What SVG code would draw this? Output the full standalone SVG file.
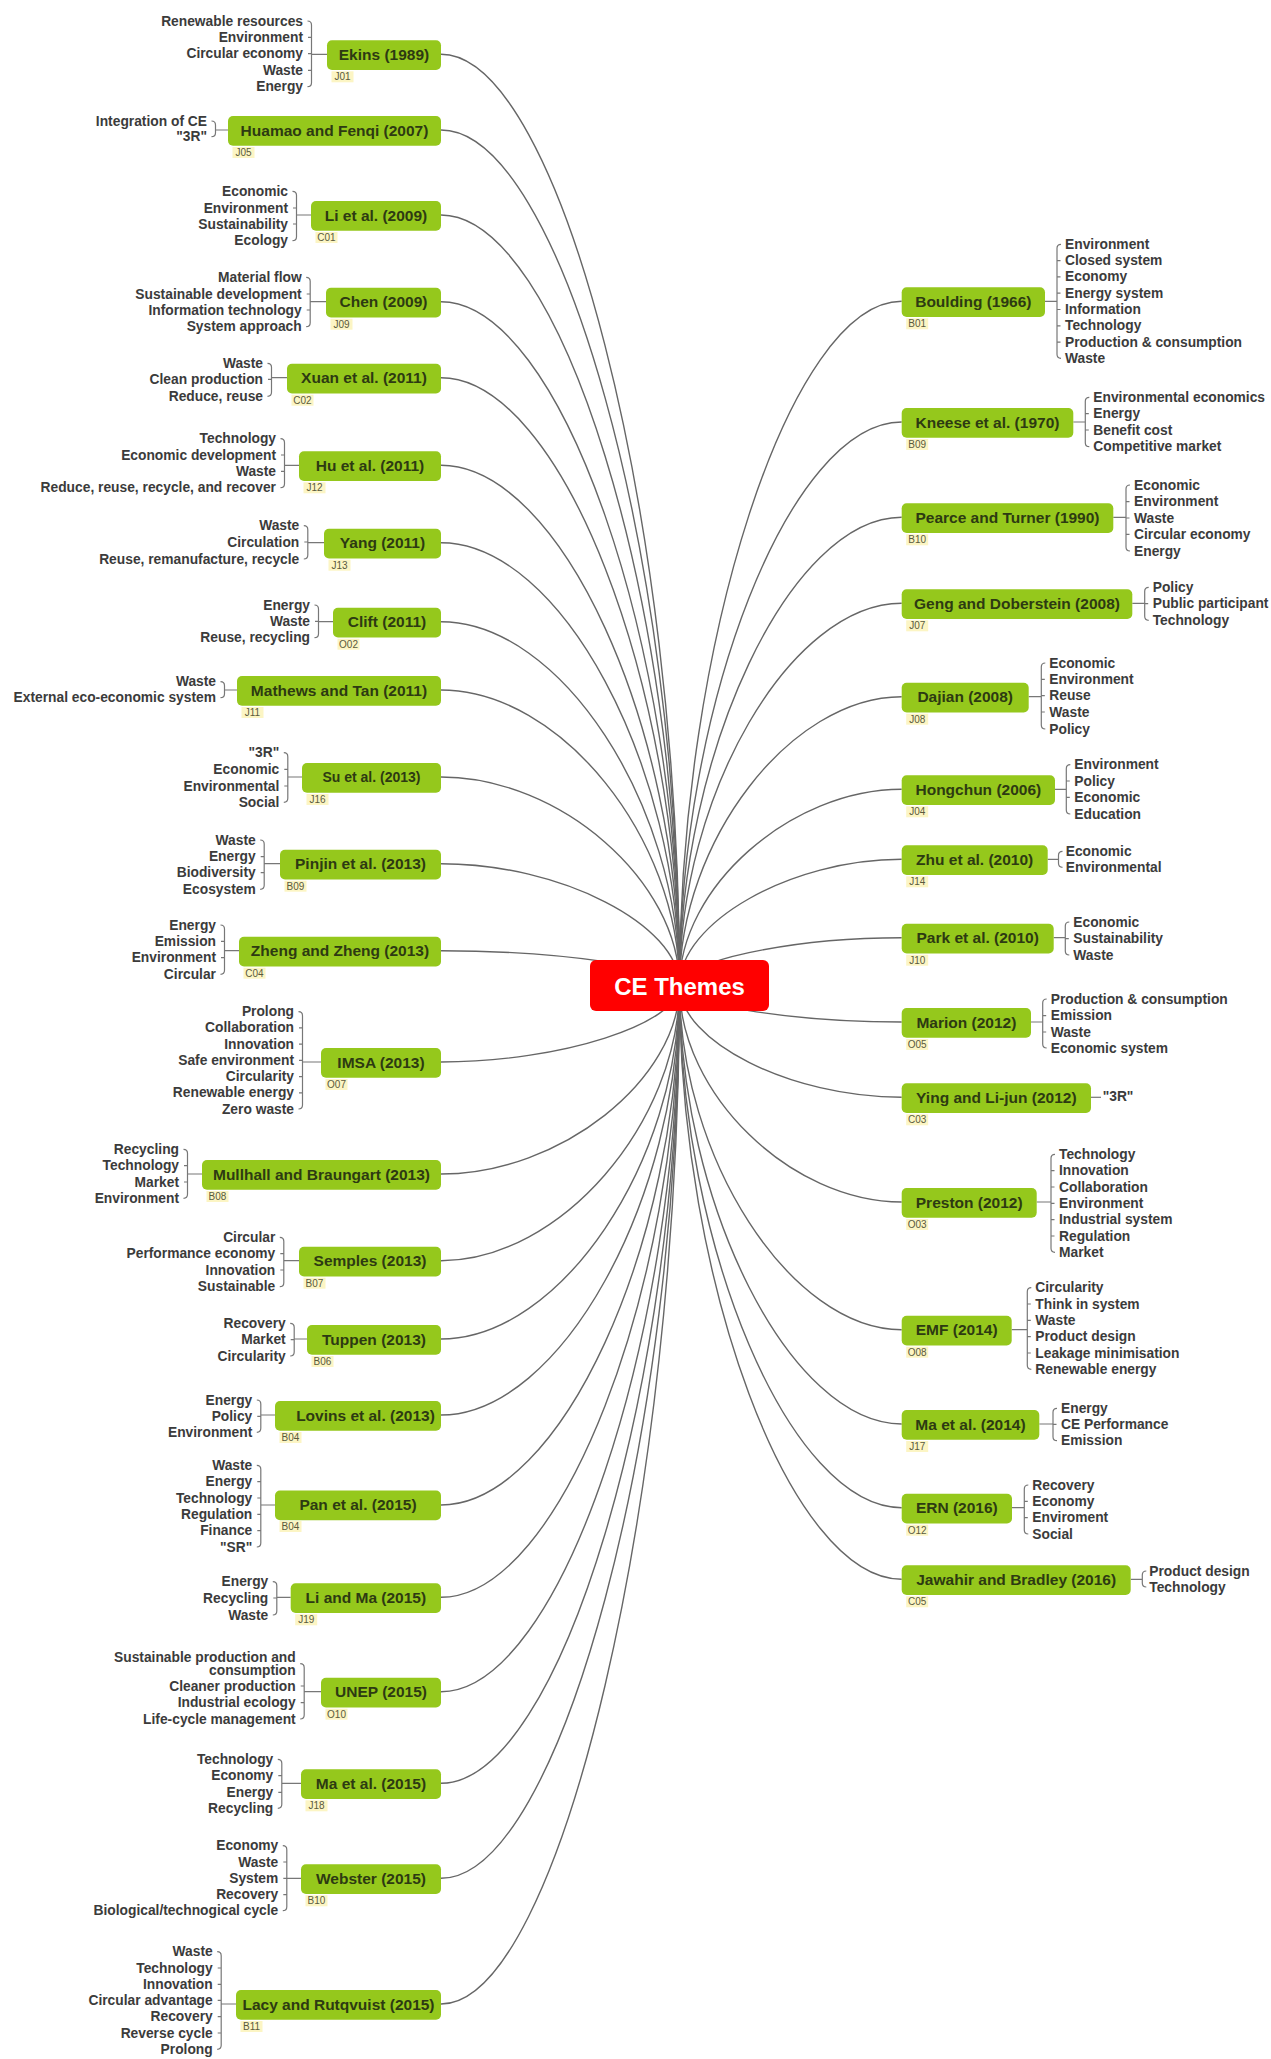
<svg xmlns="http://www.w3.org/2000/svg" width="1271" height="2059" viewBox="0 0 1271 2059">
<style>
.c{fill:none;stroke:#666;stroke-width:1.4}
.b{fill:none;stroke:#777;stroke-width:1.2}
.box{fill:#95c81c}
.root{fill:#ff0000}
.nt{font-family:"Liberation Sans",Arial,sans-serif;font-weight:bold;font-size:15.5px;fill:#2d3a12;text-anchor:middle;dominant-baseline:central}
.su{font-size:14px}
.rt{font-family:"Liberation Sans",Arial,sans-serif;font-weight:bold;font-size:24px;fill:#fff;text-anchor:middle;dominant-baseline:central}
.it{font-family:"Liberation Sans",Arial,sans-serif;font-weight:bold;font-size:13.8px;fill:#3b3b3b;dominant-baseline:central}
.l{text-anchor:end}
.r{text-anchor:start}
.tag{fill:#fcf5c4}
.tt{font-family:"Liberation Sans",Arial,sans-serif;font-size:10px;fill:#5a5a3c;text-anchor:middle;dominant-baseline:central}
</style>
<rect width="1271" height="2059" fill="#fff"/>
<g id="connectors">
<path class="c" d="M441,54.3 C560.25,54.3 679.5,519.9 679.5,985.5"/>
<path class="c" d="M441,130 C560.25,130 679.5,557.75 679.5,985.5"/>
<path class="c" d="M441,215 C560.25,215 679.5,600.25 679.5,985.5"/>
<path class="c" d="M441,301.7 C560.25,301.7 679.5,643.6 679.5,985.5"/>
<path class="c" d="M441,377.7 C560.25,377.7 679.5,681.6 679.5,985.5"/>
<path class="c" d="M441,465.3 C560.25,465.3 679.5,725.4 679.5,985.5"/>
<path class="c" d="M441,542.7 C560.25,542.7 679.5,764.1 679.5,985.5"/>
<path class="c" d="M441,621.7 C560.25,621.7 679.5,803.6 679.5,985.5"/>
<path class="c" d="M441,690 C560.25,690 679.5,837.75 679.5,985.5"/>
<path class="c" d="M441,777 C560.25,777 679.5,881.25 679.5,985.5"/>
<path class="c" d="M441,863.7 C560.25,863.7 679.5,924.6 679.5,985.5"/>
<path class="c" d="M441,950.7 C560.25,950.7 679.5,968.1 679.5,985.5"/>
<path class="c" d="M441,1062 C560.25,1062 679.5,1023.75 679.5,985.5"/>
<path class="c" d="M441,1174 C560.25,1174 679.5,1079.75 679.5,985.5"/>
<path class="c" d="M441,1260.7 C560.25,1260.7 679.5,1123.1 679.5,985.5"/>
<path class="c" d="M441,1339 C560.25,1339 679.5,1162.25 679.5,985.5"/>
<path class="c" d="M441,1415 C560.25,1415 679.5,1200.25 679.5,985.5"/>
<path class="c" d="M441,1505 C560.25,1505 679.5,1245.25 679.5,985.5"/>
<path class="c" d="M441,1597.3 C560.25,1597.3 679.5,1291.4 679.5,985.5"/>
<path class="c" d="M441,1691.7 C560.25,1691.7 679.5,1338.6 679.5,985.5"/>
<path class="c" d="M441,1783.3 C560.25,1783.3 679.5,1384.4 679.5,985.5"/>
<path class="c" d="M441,1878.3 C560.25,1878.3 679.5,1431.9 679.5,985.5"/>
<path class="c" d="M441,2004 C560.25,2004 679.5,1494.75 679.5,985.5"/>
<path class="c" d="M901.7,301.3 C790.6,301.3 679.5,643.4 679.5,985.5"/>
<path class="c" d="M901.7,422 C790.6,422 679.5,703.75 679.5,985.5"/>
<path class="c" d="M901.7,517.3 C790.6,517.3 679.5,751.4 679.5,985.5"/>
<path class="c" d="M901.7,603.3 C790.6,603.3 679.5,794.4 679.5,985.5"/>
<path class="c" d="M901.7,696.7 C790.6,696.7 679.5,841.1 679.5,985.5"/>
<path class="c" d="M901.7,789.3 C790.6,789.3 679.5,887.4 679.5,985.5"/>
<path class="c" d="M901.7,859.3 C790.6,859.3 679.5,922.4 679.5,985.5"/>
<path class="c" d="M901.7,937.7 C790.6,937.7 679.5,961.6 679.5,985.5"/>
<path class="c" d="M901.7,1022 C790.6,1022 679.5,1003.75 679.5,985.5"/>
<path class="c" d="M901.7,1097.3 C790.6,1097.3 679.5,1041.4 679.5,985.5"/>
<path class="c" d="M901.7,1202 C790.6,1202 679.5,1093.75 679.5,985.5"/>
<path class="c" d="M901.7,1329.7 C790.6,1329.7 679.5,1157.6 679.5,985.5"/>
<path class="c" d="M901.7,1424 C790.6,1424 679.5,1204.75 679.5,985.5"/>
<path class="c" d="M901.7,1507.7 C790.6,1507.7 679.5,1246.6 679.5,985.5"/>
<path class="c" d="M901.7,1579.3 C790.6,1579.3 679.5,1282.4 679.5,985.5"/>
<!-- left brackets -->
<path class="b" d="M307.5,21 Q311.5,21 311.5,25 V82.7 Q311.5,86.7 307.5,86.7 M308,37.3H311.5 M308,53.7H311.5 M308,70.3H311.5 M311.5,54.3H327"/>
<path class="b" d="M211.5,121 Q215.5,121 215.5,125 V132.7 Q215.5,136.7 211.5,136.7 M215.5,130H228"/>
<path class="b" d="M292.5,191.3 Q296.5,191.3 296.5,195.3 V236.7 Q296.5,240.7 292.5,240.7 M293,208H296.5 M293,224H296.5 M296.5,215H311"/>
<path class="b" d="M306.2,277.3 Q310.2,277.3 310.2,281.3 V322.7 Q310.2,326.7 306.2,326.7 M306.7,294H310.2 M306.7,310H310.2 M310.2,301.7H326"/>
<path class="b" d="M267.5,363.3 Q271.5,363.3 271.5,367.3 V392.3 Q271.5,396.3 267.5,396.3 M268,379.3H271.5 M271.5,377.7H287"/>
<path class="b" d="M280.5,438.7 Q284.5,438.7 284.5,442.7 V483.7 Q284.5,487.7 280.5,487.7 M281,455H284.5 M281,471.3H284.5 M284.5,465.3H299"/>
<path class="b" d="M303.8,525.7 Q307.8,525.7 307.8,529.7 V555 Q307.8,559 303.8,559 M304.3,542H307.8 M307.8,542.7H324"/>
<path class="b" d="M314.5,605 Q318.5,605 318.5,609 V633.7 Q318.5,637.7 314.5,637.7 M315,621.3H318.5 M318.5,621.7H333"/>
<path class="b" d="M220.5,681.7 Q224.5,681.7 224.5,685.7 V693.7 Q224.5,697.7 220.5,697.7 M224.5,690H237"/>
<path class="b" d="M283.8,752.7 Q287.8,752.7 287.8,756.7 V798.3 Q287.8,802.3 283.8,802.3 M284.3,769.3H287.8 M284.3,786H287.8 M287.8,777H302"/>
<path class="b" d="M260.2,840 Q264.2,840 264.2,844 V885.3 Q264.2,889.3 260.2,889.3 M260.7,856.7H264.2 M260.7,872.7H264.2 M264.2,863.7H280"/>
<path class="b" d="M220.5,925 Q224.5,925 224.5,929 V970.3 Q224.5,974.3 220.5,974.3 M221,941.3H224.5 M221,957.7H224.5 M224.5,950.7H239"/>
<path class="b" d="M298.5,1011.7 Q302.5,1011.7 302.5,1015.7 V1105 Q302.5,1109 298.5,1109 M299,1027.9H302.5 M299,1044.1H302.5 M299,1060.4H302.5 M299,1076.6H302.5 M299,1092.8H302.5 M302.5,1062H321"/>
<path class="b" d="M183.5,1149.3 Q187.5,1149.3 187.5,1153.3 V1194.3 Q187.5,1198.3 183.5,1198.3 M184,1165.7H187.5 M184,1182H187.5 M187.5,1174H202"/>
<path class="b" d="M279.8,1237.3 Q283.8,1237.3 283.8,1241.3 V1282.7 Q283.8,1286.7 279.8,1286.7 M280.3,1253.7H283.8 M280.3,1270H283.8 M283.8,1260.7H299"/>
<path class="b" d="M290.2,1323.3 Q294.2,1323.3 294.2,1327.3 V1352 Q294.2,1356 290.2,1356 M290.7,1339.7H294.2 M294.2,1339H307"/>
<path class="b" d="M256.8,1400 Q260.8,1400 260.8,1404 V1428.3 Q260.8,1432.3 256.8,1432.3 M257.3,1416.3H260.8 M260.8,1415H275"/>
<path class="b" d="M256.8,1465.3 Q260.8,1465.3 260.8,1469.3 V1543 Q260.8,1547 256.8,1547 M257.3,1481.7H260.8 M257.3,1498H260.8 M257.3,1514.3H260.8 M257.3,1530.7H260.8 M260.8,1505H275"/>
<path class="b" d="M272.8,1581.7 Q276.8,1581.7 276.8,1585.7 V1611 Q276.8,1615 272.8,1615 M273.3,1598H276.8 M276.8,1597.3H290.7"/>
<path class="b" d="M300.2,1663.7 Q304.2,1663.7 304.2,1667.7 V1715 Q304.2,1719 300.2,1719 M300.7,1686H304.2 M300.7,1702.7H304.2 M304.2,1691.7H321"/>
<path class="b" d="M277.8,1759.3 Q281.8,1759.3 281.8,1763.3 V1804.3 Q281.8,1808.3 277.8,1808.3 M278.3,1775.7H281.8 M278.3,1792.3H281.8 M281.8,1783.3H301"/>
<path class="b" d="M282.8,1845.7 Q286.8,1845.7 286.8,1849.7 V1906.7 Q286.8,1910.7 282.8,1910.7 M283.3,1862H286.8 M283.3,1878.3H286.8 M283.3,1894.7H286.8 M286.8,1878.3H301"/>
<path class="b" d="M217.2,1951.7 Q221.2,1951.7 221.2,1955.7 V2045.3 Q221.2,2049.3 217.2,2049.3 M217.7,1968H221.2 M217.7,1984.3H221.2 M217.7,2000.3H221.2 M217.7,2016.7H221.2 M217.7,2033H221.2 M221.2,2004H236"/>
<!-- right brackets -->
<path class="b" d="M1061,244.3 Q1057,244.3 1057,248.3 V354.3 Q1057,358.3 1061,358.3 M1057,260.6h3.5 M1057,276.9h3.5 M1057,293.2h3.5 M1057,309.5h3.5 M1057,325.8h3.5 M1057,342.1h3.5 M1045,301.3H1057"/>
<path class="b" d="M1089.3,397.3 Q1085.3,397.3 1085.3,401.3 V442.7 Q1085.3,446.7 1089.3,446.7 M1085.3,413.7h3.5 M1085.3,430h3.5 M1073.3,422H1085.3"/>
<path class="b" d="M1130,485 Q1126,485 1126,489 V547 Q1126,551 1130,551 M1126,501.7h3.5 M1126,518h3.5 M1126,534.3h3.5 M1113.3,517.3H1126"/>
<path class="b" d="M1148.7,587.3 Q1144.7,587.3 1144.7,591.3 V616.3 Q1144.7,620.3 1148.7,620.3 M1144.7,603.7h3.5 M1132.3,603.3H1144.7"/>
<path class="b" d="M1045.3,663 Q1041.3,663 1041.3,667 V725 Q1041.3,729 1045.3,729 M1041.3,679.3h3.5 M1041.3,695.7h3.5 M1041.3,712h3.5 M1028.7,696.7H1041.3"/>
<path class="b" d="M1070.3,764.7 Q1066.3,764.7 1066.3,768.7 V810 Q1066.3,814 1070.3,814 M1066.3,781h3.5 M1066.3,797.3h3.5 M1055,789.3H1066.3"/>
<path class="b" d="M1062.5,851.3 Q1058.5,851.3 1058.5,855.3 V863.3 Q1058.5,867.3 1062.5,867.3 M1047.7,859.3H1058.5"/>
<path class="b" d="M1069.3,922 Q1065.3,922 1065.3,926 V951 Q1065.3,955 1069.3,955 M1065.3,938.7h3.5 M1053.7,937.7H1065.3"/>
<path class="b" d="M1046.7,999 Q1042.7,999 1042.7,1003 V1044 Q1042.7,1048 1046.7,1048 M1042.7,1015.7h3.5 M1042.7,1032h3.5 M1031,1022H1042.7"/>
<path class="b" d="M1091,1097.3H1101"/>
<path class="b" d="M1055,1154.3 Q1051,1154.3 1051,1158.3 V1248.3 Q1051,1252.3 1055,1252.3 M1051,1170.7h3.5 M1051,1187h3.5 M1051,1203.3h3.5 M1051,1219.7h3.5 M1051,1236h3.5 M1036.7,1202H1051"/>
<path class="b" d="M1031.3,1287.7 Q1027.3,1287.7 1027.3,1291.7 V1365.3 Q1027.3,1369.3 1031.3,1369.3 M1027.3,1304h3.5 M1027.3,1320.3h3.5 M1027.3,1336.7h3.5 M1027.3,1353h3.5 M1011.7,1329.7H1027.3"/>
<path class="b" d="M1057,1408.3 Q1053,1408.3 1053,1412.3 V1436.7 Q1053,1440.7 1057,1440.7 M1053,1424.3h3.5 M1039.3,1424H1053"/>
<path class="b" d="M1028.3,1485 Q1024.3,1485 1024.3,1489 V1530 Q1024.3,1534 1028.3,1534 M1024.3,1501.3h3.5 M1024.3,1517.7h3.5 M1012,1507.7H1024.3"/>
<path class="b" d="M1146.3,1571 Q1142.3,1571 1142.3,1575 V1583 Q1142.3,1587 1146.3,1587 M1130.7,1579.3H1142.3"/>
</g>
<g id="root">
<rect class="root" x="590" y="960" width="179" height="51" rx="6"/>
<text class="rt" x="679.5" y="986">CE Themes</text>
</g>
<!-- left nodes -->
<g id="n-ekins">
<rect class="box" x="327" y="40.3" width="114" height="29.7" rx="5"/>
<text class="nt" x="384" y="54.3">Ekins (1989)</text>
<rect class="tag" x="331.5" y="71.3" width="22" height="11"/><text class="tt" x="342.5" y="76.8">J01</text>
<text class="it l" x="303" y="21">Renewable resources</text>
<text class="it l" x="303" y="37.3">Environment</text>
<text class="it l" x="303" y="53.7">Circular economy</text>
<text class="it l" x="303" y="70.3">Waste</text>
<text class="it l" x="303" y="86.7">Energy</text>
</g>
<g id="n-huamao">
<rect class="box" x="228" y="116" width="213" height="29.7" rx="5"/>
<text class="nt" x="334.5" y="130">Huamao and Fenqi (2007)</text>
<rect class="tag" x="232.5" y="147" width="22" height="11"/><text class="tt" x="243.5" y="152.5">J05</text>
<text class="it l" x="207" y="121">Integration of CE</text>
<text class="it l" x="207" y="136.7">"3R"</text>
</g>
<g id="n-li2009">
<rect class="box" x="311" y="201" width="130" height="29.7" rx="5"/>
<text class="nt" x="376" y="215">Li et al. (2009)</text>
<rect class="tag" x="315.5" y="232" width="22" height="11"/><text class="tt" x="326.5" y="237.5">C01</text>
<text class="it l" x="288" y="191.3">Economic</text>
<text class="it l" x="288" y="208">Environment</text>
<text class="it l" x="288" y="224">Sustainability</text>
<text class="it l" x="288" y="240.7">Ecology</text>
</g>
<g id="n-chen">
<rect class="box" x="326" y="287.7" width="115" height="29.7" rx="5"/>
<text class="nt" x="383.5" y="301.7">Chen (2009)</text>
<rect class="tag" x="330.5" y="318.7" width="22" height="11"/><text class="tt" x="341.5" y="324.2">J09</text>
<text class="it l" x="301.7" y="277.3">Material flow</text>
<text class="it l" x="301.7" y="294">Sustainable development</text>
<text class="it l" x="301.7" y="310">Information technology</text>
<text class="it l" x="301.7" y="326.7">System approach</text>
</g>
<g id="n-xuan">
<rect class="box" x="287" y="363.7" width="154" height="29.7" rx="5"/>
<text class="nt" x="364" y="377.7">Xuan et al. (2011)</text>
<rect class="tag" x="291.5" y="394.7" width="22" height="11"/><text class="tt" x="302.5" y="400.2">C02</text>
<text class="it l" x="263" y="363.3">Waste</text>
<text class="it l" x="263" y="379.3">Clean production</text>
<text class="it l" x="263" y="396.3">Reduce, reuse</text>
</g>
<g id="n-hu">
<rect class="box" x="299" y="451.3" width="142" height="29.7" rx="5"/>
<text class="nt" x="370" y="465.3">Hu et al. (2011)</text>
<rect class="tag" x="303.5" y="482.3" width="22" height="11"/><text class="tt" x="314.5" y="487.8">J12</text>
<text class="it l" x="276" y="438.7">Technology</text>
<text class="it l" x="276" y="455">Economic development</text>
<text class="it l" x="276" y="471.3">Waste</text>
<text class="it l" x="276" y="487.7">Reduce, reuse, recycle, and recover</text>
</g>
<g id="n-yang">
<rect class="box" x="324" y="528.7" width="117" height="29.7" rx="5"/>
<text class="nt" x="382.5" y="542.7">Yang (2011)</text>
<rect class="tag" x="328.5" y="559.7" width="22" height="11"/><text class="tt" x="339.5" y="565.2">J13</text>
<text class="it l" x="299.3" y="525.7">Waste</text>
<text class="it l" x="299.3" y="542">Circulation</text>
<text class="it l" x="299.3" y="559">Reuse, remanufacture, recycle</text>
</g>
<g id="n-clift">
<rect class="box" x="333" y="607.7" width="108" height="29.7" rx="5"/>
<text class="nt" x="387" y="621.7">Clift (2011)</text>
<rect class="tag" x="337.5" y="638.7" width="22" height="11"/><text class="tt" x="348.5" y="644.2">O02</text>
<text class="it l" x="310" y="605">Energy</text>
<text class="it l" x="310" y="621.3">Waste</text>
<text class="it l" x="310" y="637.7">Reuse, recycling</text>
</g>
<g id="n-mathews">
<rect class="box" x="237" y="676" width="204" height="29.7" rx="5"/>
<text class="nt" x="339" y="690">Mathews and Tan (2011)</text>
<rect class="tag" x="241.5" y="707" width="22" height="11"/><text class="tt" x="252.5" y="712.5">J11</text>
<text class="it l" x="216" y="681.7">Waste</text>
<text class="it l" x="216" y="697.7">External eco-economic system</text>
</g>
<g id="n-su">
<rect class="box" x="302" y="763" width="139" height="29.7" rx="5"/>
<text class="nt su" x="371.5" y="777">Su et al. (2013)</text>
<rect class="tag" x="306.5" y="794" width="22" height="11"/><text class="tt" x="317.5" y="799.5">J16</text>
<text class="it l" x="279.3" y="752.7">"3R"</text>
<text class="it l" x="279.3" y="769.3">Economic</text>
<text class="it l" x="279.3" y="786">Environmental</text>
<text class="it l" x="279.3" y="802.3">Social</text>
</g>
<g id="n-pinjin">
<rect class="box" x="280" y="849.7" width="161" height="29.7" rx="5"/>
<text class="nt" x="360.5" y="863.7">Pinjin et al. (2013)</text>
<rect class="tag" x="284.5" y="880.7" width="22" height="11"/><text class="tt" x="295.5" y="886.2">B09</text>
<text class="it l" x="255.7" y="840">Waste</text>
<text class="it l" x="255.7" y="856.7">Energy</text>
<text class="it l" x="255.7" y="872.7">Biodiversity</text>
<text class="it l" x="255.7" y="889.3">Ecosystem</text>
</g>
<g id="n-zheng">
<rect class="box" x="239" y="936.7" width="202" height="29.7" rx="5"/>
<text class="nt" x="340" y="950.7">Zheng and Zheng (2013)</text>
<rect class="tag" x="243.5" y="967.7" width="22" height="11"/><text class="tt" x="254.5" y="973.2">C04</text>
<text class="it l" x="216" y="925">Energy</text>
<text class="it l" x="216" y="941.3">Emission</text>
<text class="it l" x="216" y="957.7">Environment</text>
<text class="it l" x="216" y="974.3">Circular</text>
</g>
<g id="n-imsa">
<rect class="box" x="321" y="1048" width="120" height="29.7" rx="5"/>
<text class="nt" x="381" y="1062">IMSA (2013)</text>
<rect class="tag" x="325.5" y="1079" width="22" height="11"/><text class="tt" x="336.5" y="1084.5">O07</text>
<text class="it l" x="294" y="1011.7">Prolong</text>
<text class="it l" x="294" y="1027.9">Collaboration</text>
<text class="it l" x="294" y="1044.1">Innovation</text>
<text class="it l" x="294" y="1060.4">Safe environment</text>
<text class="it l" x="294" y="1076.6">Circularity</text>
<text class="it l" x="294" y="1092.8">Renewable energy</text>
<text class="it l" x="294" y="1109">Zero waste</text>
</g>
<g id="n-mullhall">
<rect class="box" x="202" y="1160" width="239" height="29.7" rx="5"/>
<text class="nt" x="321.5" y="1174">Mullhall and Braungart (2013)</text>
<rect class="tag" x="206.5" y="1191" width="22" height="11"/><text class="tt" x="217.5" y="1196.5">B08</text>
<text class="it l" x="179" y="1149.3">Recycling</text>
<text class="it l" x="179" y="1165.7">Technology</text>
<text class="it l" x="179" y="1182">Market</text>
<text class="it l" x="179" y="1198.3">Environment</text>
</g>
<g id="n-semples">
<rect class="box" x="299" y="1246.7" width="142" height="29.7" rx="5"/>
<text class="nt" x="370" y="1260.7">Semples (2013)</text>
<rect class="tag" x="303.5" y="1277.7" width="22" height="11"/><text class="tt" x="314.5" y="1283.2">B07</text>
<text class="it l" x="275.3" y="1237.3">Circular</text>
<text class="it l" x="275.3" y="1253.7">Performance economy</text>
<text class="it l" x="275.3" y="1270">Innovation</text>
<text class="it l" x="275.3" y="1286.7">Sustainable</text>
</g>
<g id="n-tuppen">
<rect class="box" x="307" y="1325" width="134" height="29.7" rx="5"/>
<text class="nt" x="374" y="1339">Tuppen (2013)</text>
<rect class="tag" x="311.5" y="1356" width="22" height="11"/><text class="tt" x="322.5" y="1361.5">B06</text>
<text class="it l" x="285.7" y="1323.3">Recovery</text>
<text class="it l" x="285.7" y="1339.7">Market</text>
<text class="it l" x="285.7" y="1356">Circularity</text>
</g>
<g id="n-lovins">
<rect class="box" x="275" y="1401" width="166" height="29.7" rx="5"/>
<text class="nt" x="365.5" y="1415">Lovins et al. (2013)</text>
<rect class="tag" x="279.5" y="1432" width="22" height="11"/><text class="tt" x="290.5" y="1437.5">B04</text>
<text class="it l" x="252.3" y="1400">Energy</text>
<text class="it l" x="252.3" y="1416.3">Policy</text>
<text class="it l" x="252.3" y="1432.3">Environment</text>
</g>
<g id="n-pan">
<rect class="box" x="275" y="1490.5" width="166" height="29.7" rx="5"/>
<text class="nt" x="358" y="1504.5">Pan et al. (2015)</text>
<rect class="tag" x="279.5" y="1521" width="22" height="11"/><text class="tt" x="290.5" y="1526.5">B04</text>
<text class="it l" x="252.3" y="1465.3">Waste</text>
<text class="it l" x="252.3" y="1481.7">Energy</text>
<text class="it l" x="252.3" y="1498">Technology</text>
<text class="it l" x="252.3" y="1514.3">Regulation</text>
<text class="it l" x="252.3" y="1530.7">Finance</text>
<text class="it l" x="252.3" y="1547">"SR"</text>
</g>
<g id="n-lima">
<rect class="box" x="290.7" y="1583.3" width="150.3" height="29.7" rx="5"/>
<text class="nt" x="365.85" y="1597.3">Li and Ma (2015)</text>
<rect class="tag" x="295.2" y="1614.3" width="22" height="11"/><text class="tt" x="306.2" y="1619.8">J19</text>
<text class="it l" x="268.3" y="1581.7">Energy</text>
<text class="it l" x="268.3" y="1598">Recycling</text>
<text class="it l" x="268.3" y="1615">Waste</text>
</g>
<g id="n-unep">
<rect class="box" x="321" y="1677.7" width="120" height="29.7" rx="5"/>
<text class="nt" x="381" y="1691.7">UNEP (2015)</text>
<rect class="tag" x="325.5" y="1708.7" width="22" height="11"/><text class="tt" x="336.5" y="1714.2">O10</text>
<text class="it l" x="295.7" y="1657.3">Sustainable production and</text>
<text class="it l" x="295.7" y="1670">consumption</text>
<text class="it l" x="295.7" y="1686">Cleaner production</text>
<text class="it l" x="295.7" y="1702.7">Industrial ecology</text>
<text class="it l" x="295.7" y="1719">Life-cycle management</text>
</g>
<g id="n-ma2015">
<rect class="box" x="301" y="1769.3" width="140" height="29.7" rx="5"/>
<text class="nt" x="371" y="1783.3">Ma et al. (2015)</text>
<rect class="tag" x="305.5" y="1800.3" width="22" height="11"/><text class="tt" x="316.5" y="1805.8">J18</text>
<text class="it l" x="273.3" y="1759.3">Technology</text>
<text class="it l" x="273.3" y="1775.7">Economy</text>
<text class="it l" x="273.3" y="1792.3">Energy</text>
<text class="it l" x="273.3" y="1808.3">Recycling</text>
</g>
<g id="n-webster">
<rect class="box" x="301" y="1864.3" width="140" height="29.7" rx="5"/>
<text class="nt" x="371" y="1878.3">Webster (2015)</text>
<rect class="tag" x="305.5" y="1895.3" width="22" height="11"/><text class="tt" x="316.5" y="1900.8">B10</text>
<text class="it l" x="278.3" y="1845.7">Economy</text>
<text class="it l" x="278.3" y="1862">Waste</text>
<text class="it l" x="278.3" y="1878.3">System</text>
<text class="it l" x="278.3" y="1894.7">Recovery</text>
<text class="it l" x="278.3" y="1910.7">Biological/technogical cycle</text>
</g>
<g id="n-lacy">
<rect class="box" x="236" y="1990" width="205" height="29.7" rx="5"/>
<text class="nt" x="338.5" y="2004">Lacy and Rutqvuist (2015)</text>
<rect class="tag" x="240.5" y="2021" width="22" height="11"/><text class="tt" x="251.5" y="2026.5">B11</text>
<text class="it l" x="212.7" y="1951.7">Waste</text>
<text class="it l" x="212.7" y="1968">Technology</text>
<text class="it l" x="212.7" y="1984.3">Innovation</text>
<text class="it l" x="212.7" y="2000.3">Circular advantage</text>
<text class="it l" x="212.7" y="2016.7">Recovery</text>
<text class="it l" x="212.7" y="2033">Reverse cycle</text>
<text class="it l" x="212.7" y="2049.3">Prolong</text>
</g>
<!-- right nodes -->
<g id="n-boulding">
<rect class="box" x="901.7" y="287.3" width="143.3" height="29.7" rx="5"/>
<text class="nt" x="973.35" y="301.3">Boulding (1966)</text>
<rect class="tag" x="906.2" y="318.3" width="22" height="11"/><text class="tt" x="917.2" y="323.8">B01</text>
<text class="it r" x="1065" y="244.3">Environment</text>
<text class="it r" x="1065" y="260.6">Closed system</text>
<text class="it r" x="1065" y="276.9">Economy</text>
<text class="it r" x="1065" y="293.2">Energy system</text>
<text class="it r" x="1065" y="309.5">Information</text>
<text class="it r" x="1065" y="325.8">Technology</text>
<text class="it r" x="1065" y="342.1">Production &amp; consumption</text>
<text class="it r" x="1065" y="358.3">Waste</text>
</g>
<g id="n-kneese">
<rect class="box" x="901.7" y="408" width="171.6" height="29.7" rx="5"/>
<text class="nt" x="987.5" y="422">Kneese et al. (1970)</text>
<rect class="tag" x="906.2" y="439" width="22" height="11"/><text class="tt" x="917.2" y="444.5">B09</text>
<text class="it r" x="1093.3" y="397.3">Environmental economics</text>
<text class="it r" x="1093.3" y="413.7">Energy</text>
<text class="it r" x="1093.3" y="430">Benefit cost</text>
<text class="it r" x="1093.3" y="446.7">Competitive market</text>
</g>
<g id="n-pearce">
<rect class="box" x="901.7" y="503.3" width="211.6" height="29.7" rx="5"/>
<text class="nt" x="1007.5" y="517.3">Pearce and Turner (1990)</text>
<rect class="tag" x="906.2" y="534.3" width="22" height="11"/><text class="tt" x="917.2" y="539.8">B10</text>
<text class="it r" x="1134" y="485">Economic</text>
<text class="it r" x="1134" y="501.7">Environment</text>
<text class="it r" x="1134" y="518">Waste</text>
<text class="it r" x="1134" y="534.3">Circular economy</text>
<text class="it r" x="1134" y="551">Energy</text>
</g>
<g id="n-geng">
<rect class="box" x="901.7" y="589.3" width="230.6" height="29.7" rx="5"/>
<text class="nt" x="1017" y="603.3">Geng and Doberstein (2008)</text>
<rect class="tag" x="906.2" y="620.3" width="22" height="11"/><text class="tt" x="917.2" y="625.8">J07</text>
<text class="it r" x="1152.7" y="587.3">Policy</text>
<text class="it r" x="1152.7" y="603.7">Public participant</text>
<text class="it r" x="1152.7" y="620.3">Technology</text>
</g>
<g id="n-dajian">
<rect class="box" x="901.7" y="682.7" width="127" height="29.7" rx="5"/>
<text class="nt" x="965.2" y="696.7">Dajian (2008)</text>
<rect class="tag" x="906.2" y="713.7" width="22" height="11"/><text class="tt" x="917.2" y="719.2">J08</text>
<text class="it r" x="1049.3" y="663">Economic</text>
<text class="it r" x="1049.3" y="679.3">Environment</text>
<text class="it r" x="1049.3" y="695.7">Reuse</text>
<text class="it r" x="1049.3" y="712">Waste</text>
<text class="it r" x="1049.3" y="729">Policy</text>
</g>
<g id="n-hongchun">
<rect class="box" x="901.7" y="775.3" width="153.3" height="29.7" rx="5"/>
<text class="nt" x="978.35" y="789.3">Hongchun (2006)</text>
<rect class="tag" x="906.2" y="806.3" width="22" height="11"/><text class="tt" x="917.2" y="811.8">J04</text>
<text class="it r" x="1074.3" y="764.7">Environment</text>
<text class="it r" x="1074.3" y="781">Policy</text>
<text class="it r" x="1074.3" y="797.3">Economic</text>
<text class="it r" x="1074.3" y="814">Education</text>
</g>
<g id="n-zhu">
<rect class="box" x="901.7" y="845.3" width="146" height="29.7" rx="5"/>
<text class="nt" x="974.7" y="859.3">Zhu et al. (2010)</text>
<rect class="tag" x="906.2" y="876.3" width="22" height="11"/><text class="tt" x="917.2" y="881.8">J14</text>
<text class="it r" x="1065.7" y="851.3">Economic</text>
<text class="it r" x="1065.7" y="867.3">Environmental</text>
</g>
<g id="n-park">
<rect class="box" x="901.7" y="923.7" width="152" height="29.7" rx="5"/>
<text class="nt" x="977.7" y="937.7">Park et al. (2010)</text>
<rect class="tag" x="906.2" y="954.7" width="22" height="11"/><text class="tt" x="917.2" y="960.2">J10</text>
<text class="it r" x="1073.3" y="922">Economic</text>
<text class="it r" x="1073.3" y="938.7">Sustainability</text>
<text class="it r" x="1073.3" y="955">Waste</text>
</g>
<g id="n-marion">
<rect class="box" x="901.7" y="1008" width="129.3" height="29.7" rx="5"/>
<text class="nt" x="966.35" y="1022">Marion (2012)</text>
<rect class="tag" x="906.2" y="1039" width="22" height="11"/><text class="tt" x="917.2" y="1044.5">O05</text>
<text class="it r" x="1050.7" y="999">Production &amp; consumption</text>
<text class="it r" x="1050.7" y="1015.7">Emission</text>
<text class="it r" x="1050.7" y="1032">Waste</text>
<text class="it r" x="1050.7" y="1048">Economic system</text>
</g>
<g id="n-ying">
<rect class="box" x="901.7" y="1083.3" width="189.3" height="29.7" rx="5"/>
<text class="nt" x="996.35" y="1097.3">Ying and Li-jun (2012)</text>
<rect class="tag" x="906.2" y="1114.3" width="22" height="11"/><text class="tt" x="917.2" y="1119.8">C03</text>
<text class="it r" x="1102.7" y="1096.7">"3R"</text>
</g>
<g id="n-preston">
<rect class="box" x="901.7" y="1188" width="135" height="29.7" rx="5"/>
<text class="nt" x="969.2" y="1202">Preston (2012)</text>
<rect class="tag" x="906.2" y="1219" width="22" height="11"/><text class="tt" x="917.2" y="1224.5">O03</text>
<text class="it r" x="1059" y="1154.3">Technology</text>
<text class="it r" x="1059" y="1170.7">Innovation</text>
<text class="it r" x="1059" y="1187">Collaboration</text>
<text class="it r" x="1059" y="1203.3">Environment</text>
<text class="it r" x="1059" y="1219.7">Industrial system</text>
<text class="it r" x="1059" y="1236">Regulation</text>
<text class="it r" x="1059" y="1252.3">Market</text>
</g>
<g id="n-emf">
<rect class="box" x="901.7" y="1315.7" width="110" height="29.7" rx="5"/>
<text class="nt" x="956.7" y="1329.7">EMF (2014)</text>
<rect class="tag" x="906.2" y="1346.7" width="22" height="11"/><text class="tt" x="917.2" y="1352.2">O08</text>
<text class="it r" x="1035.3" y="1287.7">Circularity</text>
<text class="it r" x="1035.3" y="1304">Think in system</text>
<text class="it r" x="1035.3" y="1320.3">Waste</text>
<text class="it r" x="1035.3" y="1336.7">Product design</text>
<text class="it r" x="1035.3" y="1353">Leakage minimisation</text>
<text class="it r" x="1035.3" y="1369.3">Renewable energy</text>
</g>
<g id="n-ma2014">
<rect class="box" x="901.7" y="1410" width="137.6" height="29.7" rx="5"/>
<text class="nt" x="970.5" y="1424">Ma et al. (2014)</text>
<rect class="tag" x="906.2" y="1441" width="22" height="11"/><text class="tt" x="917.2" y="1446.5">J17</text>
<text class="it r" x="1061" y="1408.3">Energy</text>
<text class="it r" x="1061" y="1424.3">CE Performance</text>
<text class="it r" x="1061" y="1440.7">Emission</text>
</g>
<g id="n-ern">
<rect class="box" x="901.7" y="1493.7" width="110.3" height="29.7" rx="5"/>
<text class="nt" x="956.85" y="1507.7">ERN (2016)</text>
<rect class="tag" x="906.2" y="1524.7" width="22" height="11"/><text class="tt" x="917.2" y="1530.2">O12</text>
<text class="it r" x="1032.3" y="1485">Recovery</text>
<text class="it r" x="1032.3" y="1501.3">Economy</text>
<text class="it r" x="1032.3" y="1517.7">Enviroment</text>
<text class="it r" x="1032.3" y="1534">Social</text>
</g>
<g id="n-jawahir">
<rect class="box" x="901.7" y="1565.3" width="229" height="29.7" rx="5"/>
<text class="nt" x="1016.2" y="1579.3">Jawahir and Bradley (2016)</text>
<rect class="tag" x="906.2" y="1596.3" width="22" height="11"/><text class="tt" x="917.2" y="1601.8">C05</text>
<text class="it r" x="1149.3" y="1571">Product design</text>
<text class="it r" x="1149.3" y="1587">Technology</text>
</g>
</svg>
